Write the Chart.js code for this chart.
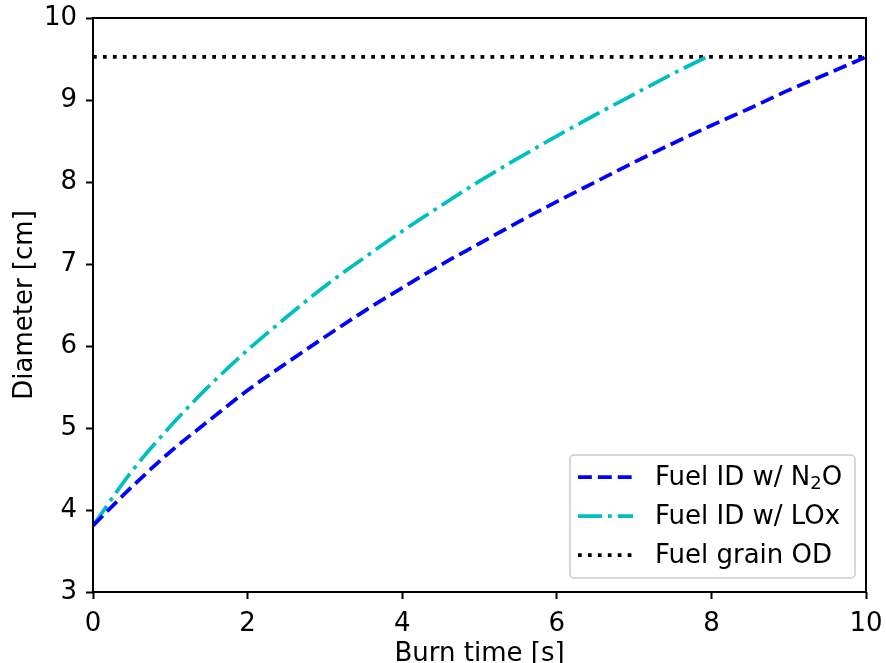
<!DOCTYPE html>
<html>
<head>
<meta charset="utf-8">
<script src="https://cdn.jsdelivr.net/npm/chart.js@4.4.0/dist/chart.umd.min.js"></script>
<style>
  body { margin: 0; background: #fff; }
  #wrap { width: 886px; height: 663px; position: relative; }
</style>
</head>
<body>
<div id="wrap"><canvas id="chart"></canvas></div>
<script>
// Burn time [s] and diameter [cm]
const timeN2O = [0, 0.5, 1, 1.5, 2, 2.5, 3, 3.5, 4, 4.5, 5, 5.5, 6, 6.5, 7, 7.5, 8, 8.5, 9, 9.5, 10];
const diaN2O = [3.81, 4.28, 4.71, 5.09, 5.46, 5.79, 6.11, 6.42, 6.71, 6.99, 7.25, 7.51, 7.76, 8.00, 8.24, 8.47, 8.69, 8.90, 9.12, 9.32, 9.525];

const timeLOx = [0, 0.5, 1, 1.5, 2, 2.5, 3, 3.5, 4, 4.5, 5, 5.5, 6, 6.5, 7, 7.5, 7.94];
const diaLOx = [3.81, 4.47, 5.02, 5.51, 5.95, 6.35, 6.73, 7.07, 7.40, 7.71, 8.01, 8.29, 8.56, 8.82, 9.07, 9.32, 9.525];

const timeOD = [0, 10];
const diaOD = [9.525, 9.525];

const seriesLabels = ['Fuel ID w/ N\u2082O', 'Fuel ID w/ LOx', 'Fuel grain OD'];

// small helper: two arrays -> {x, y} points
function toPoints(xs, ys) {
  return xs.map((x, i) => ({ x: x, y: ys[i] }));
}

const LW = 3.75;
const FS = 26;

// legend text, with the subscript 2 drawn smaller and lower
function drawLabel(ctx, text, x, y) {
  const parts = text.split('\u2082');
  ctx.font = FS + 'px "DejaVu Sans"';
  ctx.fillText(parts[0], x, y);
  if (parts.length < 2) return;
  x += ctx.measureText(parts[0]).width;
  ctx.font = Math.round(FS * 0.7) + 'px "DejaVu Sans"';
  ctx.fillText('2', x, y + 4);
  x += ctx.measureText('2').width;
  ctx.font = FS + 'px "DejaVu Sans"';
  ctx.fillText(parts[1], x, y);
}

// frame round the plot and the legend box in the lower right
const frameAndLegend = {
  id: 'frameAndLegend',
  afterDatasetsDraw(chart) {
    const ctx = chart.ctx;
    const a = chart.chartArea;
    ctx.save();
    ctx.strokeStyle = '#000';
    ctx.lineWidth = 2;
    ctx.setLineDash([]);
    ctx.strokeRect(a.left, a.top, a.right - a.left, a.bottom - a.top);

    // legend
    const bx = 570, by = 455, bw = 285, bh = 123;
    ctx.beginPath();
    ctx.roundRect(bx, by, bw, bh, 4);
    ctx.fillStyle = 'rgba(255,255,255,0.8)';
    ctx.fill();
    ctx.strokeStyle = '#cccccc';
    ctx.lineWidth = 1.5;
    ctx.stroke();

    ctx.textBaseline = 'alphabetic';
    ctx.textAlign = 'left';
    chart.data.datasets.forEach((ds, i) => {
      const base = 485 + i * 39;
      const ly = base - 8;
      ctx.beginPath();
      ctx.setLineDash(ds.borderDash || []);
      ctx.strokeStyle = ds.borderColor;
      ctx.lineWidth = ds.borderWidth;
      ctx.moveTo(578, ly);
      ctx.lineTo(633, ly);
      ctx.stroke();
      ctx.setLineDash([]);
      ctx.fillStyle = '#000';
      drawLabel(ctx, ds.label, 655, base);
    });
    ctx.restore();
  }
};

function initChart() {
  Chart.defaults.font.family = '"DejaVu Sans", sans-serif';
  Chart.defaults.font.size = FS;
  Chart.defaults.color = '#000';

  const ctx = document.getElementById('chart').getContext('2d');

  const data = {
    datasets: [{
      label: seriesLabels[0],
      data: toPoints(timeN2O, diaN2O),
      borderColor: '#0000ff',
      borderWidth: LW,
      borderDash: [3.7 * LW, 1.6 * LW],
      pointRadius: 0,
      cubicInterpolationMode: 'monotone',
      fill: false
    }, {
      label: seriesLabels[1],
      data: toPoints(timeLOx, diaLOx),
      borderColor: '#00bfbf',
      borderWidth: LW,
      borderDash: [6.4 * LW, 1.6 * LW, 1 * LW, 1.6 * LW],
      pointRadius: 0,
      cubicInterpolationMode: 'monotone',
      fill: false
    }, {
      label: seriesLabels[2],
      data: toPoints(timeOD, diaOD),
      borderColor: '#000000',
      borderWidth: LW,
      borderDash: [1 * LW, 1.65 * LW],
      pointRadius: 0,
      fill: false
    }]
  };

  const config = {
    type: 'line',
    data: data,
    options: {
      responsive: true,
      maintainAspectRatio: false,
      animation: false,
      layout: { padding: { top: 18, right: 20, bottom: 0, left: 0 } },
      plugins: {
        legend: { display: false },
        tooltip: { enabled: false }
      },
      scales: {
        x: {
          type: 'linear',
          min: 0,
          max: 10,
          ticks: { stepSize: 2, padding: 10, maxRotation: 0 },
          grid: { display: true, drawOnChartArea: false, drawTicks: true, tickLength: 7, tickWidth: 2, tickColor: '#000' },
          border: { display: false },
          title: {
            display: true,
            text: 'Burn time [s]',
            font: { size: FS, lineHeight: 0.65 },
            padding: { top: 0, bottom: 0 }
          },
          afterFit(scale) {
            scale.height = 71;
            scale.paddingLeft = 0;
            scale.paddingRight = 0;
          }
        },
        y: {
          type: 'linear',
          min: 3,
          max: 10,
          ticks: { stepSize: 1, padding: 9 },
          grid: { display: true, drawOnChartArea: false, drawTicks: true, tickLength: 7, tickWidth: 2, tickColor: '#000' },
          border: { display: false },
          title: {
            display: true,
            text: 'Diameter [cm]',
            font: { size: FS, lineHeight: 1 },
            padding: { top: 12, bottom: 0 }
          },
          afterFit(scale) {
            scale.width = 93;
            scale.paddingTop = 0;
            scale.paddingBottom = 0;
          }
        }
      }
    },
    plugins: [frameAndLegend]
  };

  new Chart(ctx, config);
}

document.addEventListener('DOMContentLoaded', () => {
  initChart();
});
</script>
</body>
</html>
